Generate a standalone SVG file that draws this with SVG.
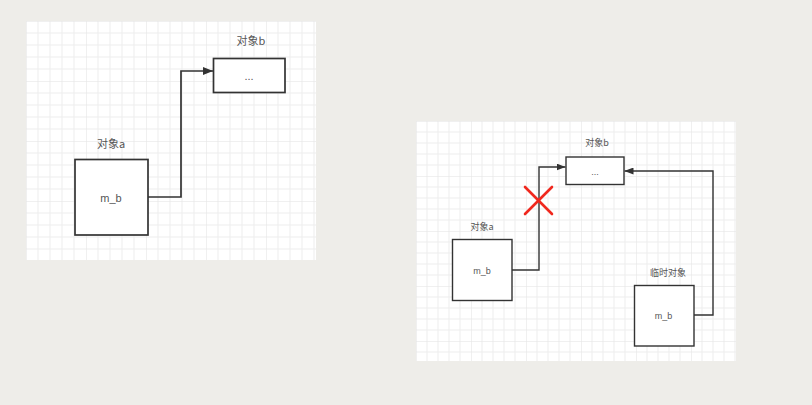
<svg xmlns="http://www.w3.org/2000/svg" width="812" height="405" viewBox="0 0 812 405">
<style>
.box{fill:#fff;stroke:#333;stroke-width:1.7}
.box2{fill:#fff;stroke:#333;stroke-width:1.4}
.lbl{font-family:"Noto Sans CJK SC","Liberation Sans",sans-serif;fill:#555;text-anchor:middle}
.txt{font-family:"Liberation Sans",Arial,sans-serif;fill:#555;text-anchor:middle}
.conn{fill:none;stroke:#333;stroke-width:1.7}
.conn2{fill:none;stroke:#333;stroke-width:1.4}
.cross{stroke:#f0281e;stroke-width:2.6;stroke-linecap:round}
</style>
<defs>
<pattern id="g1" x="26" y="21" width="60" height="60" patternUnits="userSpaceOnUse">
<path d="M12,0V60M24,0V60M36,0V60M48,0V60M0,12H60M0,24H60M0,36H60M0,48H60" stroke="#ededed" stroke-width="1"/>
<path d="M0,0V60M0,0H60" stroke="#e2e2e2" stroke-width="1"/>
</pattern>
<pattern id="g2" x="416" y="121" width="55" height="55" patternUnits="userSpaceOnUse">
<path d="M11,0V55M22,0V55M33,0V55M44,0V55M0,11H55M0,22H55M0,33H55M0,44H55" stroke="#ededed" stroke-width="1"/>
<path d="M0,0V55M0,0H55" stroke="#e2e2e2" stroke-width="1"/>
</pattern>
<marker id="ah" viewBox="0 0 10 8" refX="10" refY="4" markerWidth="10" markerHeight="8" markerUnits="userSpaceOnUse" orient="auto">
<path d="M0,0L10,4L0,8z" fill="#333"/>
</marker>
<marker id="ah2" viewBox="0 0 9 7" refX="9" refY="3.5" markerWidth="9" markerHeight="7" markerUnits="userSpaceOnUse" orient="auto">
<path d="M0,0L9,3.5L0,7z" fill="#333"/>
</marker>
</defs>
<rect width="812" height="405" fill="#eeede9"/>
<g id="panel-left">
<rect x="26" y="21" width="290" height="239" fill="#fff"/>
<rect x="26" y="21" width="290" height="239" fill="url(#g1)"/>
</g>
<g id="panel-right">
<rect x="416" y="121" width="320" height="240" fill="#fff"/>
<rect x="416" y="121" width="320" height="240" fill="url(#g2)"/>
</g>
<g id="connectors">
<path class="conn" d="M148,197H181V71H213" marker-end="url(#ah)"/>
<path class="conn2" d="M512,270H539V167H565.5" marker-end="url(#ah2)"/>
<path class="conn2" d="M694,315H713V171H624.5" marker-end="url(#ah2)"/>
</g>
<g id="objA">
<rect class="box" x="75" y="159.5" width="73" height="75.5"/>
<text class="lbl" x="111" y="148" font-size="11">对象a</text>
<text class="txt" x="111" y="202" font-size="11">m_b</text>
</g>
<g id="objB">
<rect class="box" x="213.5" y="58.5" width="71.5" height="34"/>
<text class="lbl" x="251" y="45" font-size="11">对象b</text>
<text class="txt" x="249" y="80" font-size="11">...</text>
</g>
<g id="objA2">
<rect class="box2" x="452.5" y="239.5" width="59.5" height="61"/>
<text class="lbl" x="482" y="230" font-size="9">对象a</text>
<text class="txt" x="482" y="274" font-size="9">m_b</text>
</g>
<g id="objB2">
<rect class="box2" x="566" y="157" width="58" height="27.5"/>
<text class="lbl" x="597" y="146" font-size="9">对象b</text>
<text class="txt" x="595" y="175" font-size="9">...</text>
</g>
<g id="tmpObj">
<rect class="box2" x="634.5" y="285.5" width="59.5" height="60.5"/>
<text class="lbl" x="668" y="275.5" font-size="9">临时对象</text>
<text class="txt" x="663.5" y="319" font-size="9">m_b</text>
</g>
<g id="cross">
<line class="cross" x1="525" y1="187" x2="552" y2="214"/>
<line class="cross" x1="552" y1="187" x2="525" y2="214"/>
</g>
</svg>
